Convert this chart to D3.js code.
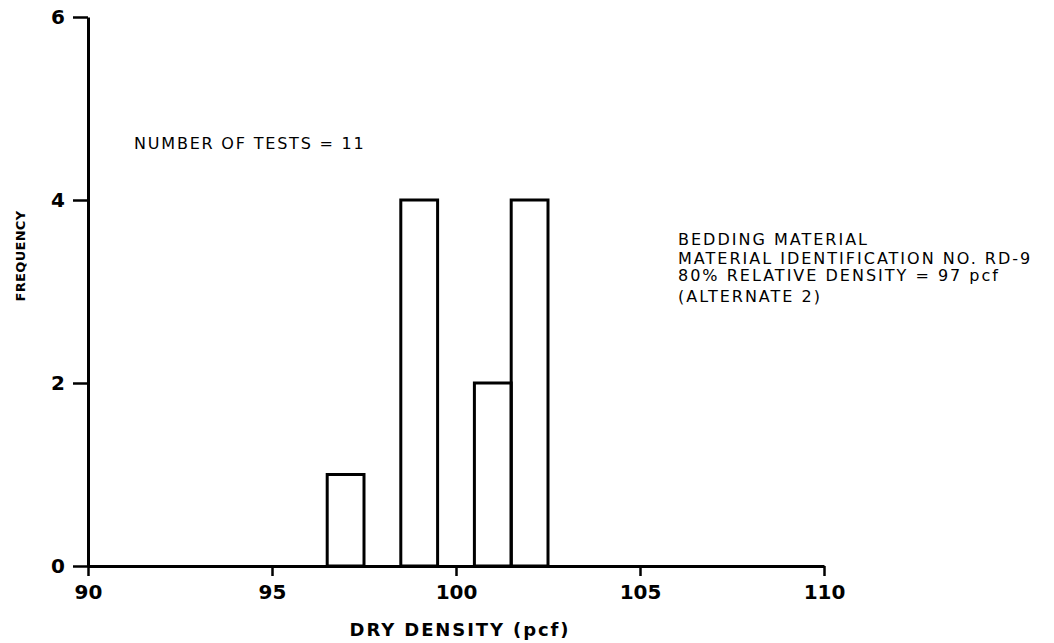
<!DOCTYPE html>
<html>
<head>
<meta charset="utf-8">
<script src="https://cdn.jsdelivr.net/npm/d3@7"></script>
<style>
  html, body { margin: 0; padding: 0; background: #fff; }
  svg { display: block; }
  text { font-family: "DejaVu Sans", sans-serif; fill: #000; }
</style>
</head>
<body>
<svg id="chart" width="1054" height="643"></svg>
<script>
// Histogram bins (lower edge, upper edge) and counts of dry-density tests
const binStarts = [96.5, 98.5, 100.5, 101.5];
const binEnds   = [97.5, 99.5, 101.5, 102.5];
const counts    = [1, 4, 2, 4];

const xTicks = [90, 95, 100, 105, 110];
const yTicks = [0, 2, 4, 6];

const noteLines = [
  "BEDDING MATERIAL",
  "MATERIAL IDENTIFICATION NO. RD-9",
  "80% RELATIVE DENSITY = 97 pcf",
  "(ALTERNATE 2)"
];
const testsNote = "NUMBER OF TESTS = " + d3.sum(counts);

const svg = d3.select("#chart");

const x = d3.scaleLinear().domain([90, 110]).range([88, 824]);
const y = d3.scaleLinear().domain([0, 6]).range([566, 17]);

const bins = binStarts.map((s, i) => ({ x0: s, x1: binEnds[i], n: counts[i] }));

// Bars: open rectangles
svg.append("g")
  .selectAll("rect")
  .data(bins)
  .join("rect")
  .attr("x", d => x(d.x0))
  .attr("y", d => y(d.n))
  .attr("width", d => x(d.x1) - x(d.x0))
  .attr("height", d => y(0) - y(d.n))
  .attr("fill", "none")
  .attr("stroke", "#000")
  .attr("stroke-width", 3);

// X axis
const xAxis = svg.append("g")
  .attr("transform", `translate(0,${y(0)})`)
  .call(d3.axisBottom(x).tickValues(xTicks).tickFormat(d3.format("d"))
    .tickSize(10).tickSizeOuter(0).tickPadding(9));
xAxis.select(".domain").attr("stroke-width", 3);
xAxis.selectAll(".tick line").attr("stroke-width", 2.5);
xAxis.selectAll(".tick text")
  .style("font-family", "DejaVu Sans, sans-serif")
  .style("font-size", "20px")
  .style("font-weight", "bold");

// Y axis
const yAxis = svg.append("g")
  .attr("transform", `translate(${x(90)},0)`)
  .call(d3.axisLeft(y).tickValues(yTicks).tickFormat(d3.format("d"))
    .tickSize(15).tickSizeOuter(0).tickPadding(8));
yAxis.select(".domain").attr("stroke-width", 3);
yAxis.selectAll(".tick line").attr("stroke-width", 2.5);
yAxis.selectAll(".tick text")
  .style("font-family", "DejaVu Sans, sans-serif")
  .style("font-size", "20px")
  .style("font-weight", "bold");

// Axis titles
svg.append("text")
  .attr("x", 460).attr("y", 636)
  .attr("text-anchor", "middle")
  .style("font-size", "18px")
  .style("font-weight", "bold")
  .style("letter-spacing", "1.9px")
  .text("DRY DENSITY (pcf)");

svg.append("text")
  .attr("transform", "translate(25,256) rotate(-90)")
  .attr("text-anchor", "middle")
  .style("font-size", "13px")
  .style("font-weight", "bold")
  .style("letter-spacing", "0.3px")
  .text("FREQUENCY");

// Annotations
svg.append("text")
  .attr("x", 134).attr("y", 149)
  .style("font-size", "16px")
  .style("letter-spacing", "1.8px")
  .text(testsNote);

svg.append("g")
  .selectAll("text")
  .data(noteLines)
  .join("text")
  .attr("x", 678)
  .attr("y", (d, i) => [245, 264, 281, 302][i])
  .style("font-size", "16px")
  .style("letter-spacing", "2px")
  .text(d => d);
</script>
</body>
</html>
